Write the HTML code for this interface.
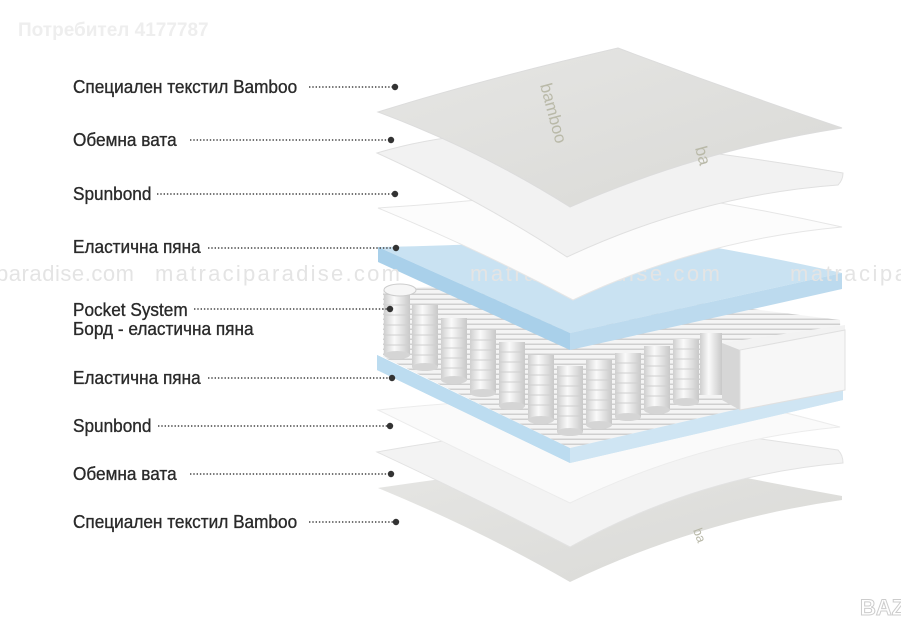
<!DOCTYPE html>
<html><head><meta charset="utf-8"><style>
html,body{margin:0;padding:0;background:#fff;}
body{width:901px;height:639px;overflow:hidden;position:relative;font-family:"Liberation Sans",sans-serif;}
svg{position:absolute;left:0;top:0;}
</style></head><body>
<svg width="901" height="639" viewBox="0 0 901 639" xmlns="http://www.w3.org/2000/svg">
<defs>
<pattern id="coil" width="10" height="5" patternUnits="userSpaceOnUse">
<rect width="10" height="5" fill="#f4f4f4"/><rect y="3.5" width="10" height="1.5" fill="#cfcfcf"/>
</pattern>
<linearGradient id="cyl" x1="0" x2="1" y1="0" y2="0">
<stop offset="0" stop-color="#cfcfcf"/><stop offset="0.4" stop-color="#fafafa"/><stop offset="1" stop-color="#c8c8c8"/>
</linearGradient>
<linearGradient id="bam" x1="0" x2="1" y1="0" y2="1">
<stop offset="0" stop-color="#e6e6e4"/><stop offset="1" stop-color="#d9d9d6"/>
</linearGradient>
<linearGradient id="blue" x1="0" x2="1" y1="0" y2="0">
<stop offset="0" stop-color="#b9d9ee"/><stop offset="1" stop-color="#d9ebf6"/>
</linearGradient>
</defs>

<text x="18" y="36" font-size="19" font-weight="bold" fill="#eeeeee" font-family="Liberation Sans, sans-serif">Потребител 4177787</text>

<path d="M378,488 Q480,530 570,582 Q700,520 842,500 L842,496 Q700,470 640,455 Q500,470 378,488 Z" fill="url(#bam)"/>
<path d="M377,452 Q480,500 570,547 Q700,475 843,463 Q843,455 838,450 Q700,430 620,420 Q500,430 377,452 Z" fill="#f3f3f3" stroke="#e2e2e2" stroke-width="1"/>
<path d="M378,410 Q480,460 570,503 Q700,440 840,427 Q760,405 700,395 Q520,395 378,410 Z" fill="#fafafa" stroke="#ececec" stroke-width="1"/>
<path d="M377,355 L570,448 L843,383 L843,400 L570,463 L377,370 Z" fill="url(#blue)"/>
<path d="M377,355 L570,448 L570,463 L377,370 Z" fill="#bcdcf0"/>
<path d="M570,448 L843,383 L843,400 L570,463 Z" fill="#cfe5f3"/>

<path d="M383,290 L520,280 L840,320 L842,385 L570,448 L383,357 Z" fill="url(#coil)"/>
<path d="M722,343 L845,325 L845,390 L740,410 L722,400 Z" fill="#f2f2f2"/>
<path d="M722,343 L740,350 L740,410 L722,400 Z" fill="#d6d6d6"/>
<path d="M740,350 L845,330 L845,390 L740,410 Z" fill="#f7f7f7" stroke="#e0e0e0"/>
<g>
<rect x="384" y="295" width="26" height="60" fill="url(#cyl)"/><ellipse cx="397" cy="355" rx="13" ry="4" fill="#d5d5d5"/>
<rect x="412" y="305" width="26" height="62" fill="url(#cyl)"/><ellipse cx="425" cy="367" rx="13" ry="4" fill="#d5d5d5"/>
<rect x="441" y="318" width="26" height="62" fill="url(#cyl)"/><ellipse cx="454" cy="380" rx="13" ry="4" fill="#d5d5d5"/>
<rect x="470" y="330" width="26" height="63" fill="url(#cyl)"/><ellipse cx="483" cy="393" rx="13" ry="4" fill="#d5d5d5"/>
<rect x="499" y="342" width="26" height="64" fill="url(#cyl)"/><ellipse cx="512" cy="406" rx="13" ry="4" fill="#d5d5d5"/>
<rect x="528" y="355" width="26" height="65" fill="url(#cyl)"/><ellipse cx="541" cy="420" rx="13" ry="4" fill="#d5d5d5"/>
<rect x="557" y="366" width="26" height="66" fill="url(#cyl)"/><ellipse cx="570" cy="432" rx="13" ry="4" fill="#d5d5d5"/>
<rect x="586" y="360" width="26" height="65" fill="url(#cyl)"/><ellipse cx="599" cy="425" rx="13" ry="4" fill="#d5d5d5"/>
<rect x="615" y="353" width="26" height="64" fill="url(#cyl)"/><ellipse cx="628" cy="417" rx="13" ry="4" fill="#d5d5d5"/>
<rect x="644" y="346" width="26" height="64" fill="url(#cyl)"/><ellipse cx="657" cy="410" rx="13" ry="4" fill="#d5d5d5"/>
<rect x="673" y="339" width="26" height="63" fill="url(#cyl)"/><ellipse cx="686" cy="402" rx="13" ry="4" fill="#d5d5d5"/>
<rect x="700" y="333" width="22" height="62" fill="url(#cyl)"/>
</g>
<g stroke="#d0d0d0" stroke-width="1.2" opacity="0.8">
<path d="M384,305 h26 M384,315 h26 M384,325 h26 M384,335 h26 M384,345 h26"/>
<path d="M412,315 h26 M412,325 h26 M412,335 h26 M412,345 h26 M412,355 h26"/>
<path d="M441,328 h26 M441,338 h26 M441,348 h26 M441,358 h26 M441,368 h26"/>
<path d="M470,340 h26 M470,350 h26 M470,360 h26 M470,370 h26 M470,380 h26"/>
<path d="M499,352 h26 M499,362 h26 M499,372 h26 M499,382 h26 M499,392 h26"/>
<path d="M528,365 h26 M528,375 h26 M528,385 h26 M528,395 h26 M528,405 h26"/>
<path d="M557,376 h26 M557,386 h26 M557,396 h26 M557,406 h26 M557,416 h26"/>
<path d="M586,370 h26 M586,380 h26 M586,390 h26 M586,400 h26 M586,410 h26"/>
<path d="M615,363 h26 M615,373 h26 M615,383 h26 M615,393 h26 M615,403 h26"/>
<path d="M644,356 h26 M644,366 h26 M644,376 h26 M644,386 h26 M644,396 h26"/>
<path d="M673,349 h26 M673,359 h26 M673,369 h26 M673,379 h26 M673,389 h26"/>
</g>
<ellipse cx="400" cy="290" rx="16" ry="6" fill="#f6f6f6" stroke="#ccc"/>

<path d="M378,247 Q520,245 620,232 Q740,250 842,273 L570,333 Z" fill="#c9e2f2"/>
<path d="M378,247 L570,333 L570,350 L378,262 Z" fill="#a9d0ea"/>
<path d="M570,333 L842,273 L842,289 L570,350 Z" fill="#bcdaee"/>
<g font-size="22" fill="#e4e4e4" font-family="Liberation Sans, sans-serif">
<text x="-4" y="281" textLength="138" lengthAdjust="spacing">paradise.com</text>
<text x="155" y="281" textLength="245" lengthAdjust="spacing">matraciparadise.com</text>
<text x="470" y="281" textLength="250" lengthAdjust="spacing">matraciparadise.com</text>
<text x="790" y="281" textLength="250" lengthAdjust="spacing">matraciparadise.com</text>
</g>
<path d="M378,208 Q500,200 600,185 Q720,200 842,227 Q700,240 573,300 Q480,250 378,208 Z" fill="#fcfcfc" stroke="#e6e6e6"/>
<path d="M377,153 Q420,140 470,135 Q620,135 843,173 Q843,180 838,185 Q700,195 567,257 Q480,200 377,153 Z" fill="#f2f2f2" stroke="#e0e0e0"/>
<path d="M378,112 Q480,80 618,48 Q730,90 842,128 Q700,150 570,207 Q480,150 378,112 Z" fill="url(#bam)" stroke="#dcdcdc"/>
<text x="540" y="85" font-size="17" fill="#b9b9a8" transform="rotate(75 540 85)" font-family="Liberation Sans, sans-serif">bamboo</text>
<text x="695" y="148" font-size="17" fill="#b9b9a8" transform="rotate(75 695 148)" font-family="Liberation Sans, sans-serif">ba</text>
<text x="693" y="530" font-size="13" fill="#b8b8a8" transform="rotate(70 693 530)">ba</text>

<g font-family="Liberation Sans, sans-serif" font-size="18.5" fill="#2a2a2a" stroke="#2a2a2a" stroke-width="0.35">
<text x="73" y="93" transform="translate(73 0) scale(0.93 1) translate(-73 0)">Специален текстил Bamboo</text>
<text x="73" y="146" transform="translate(73 0) scale(0.93 1) translate(-73 0)">Обемна вата</text>
<text x="73" y="200" transform="translate(73 0) scale(0.93 1) translate(-73 0)">Spunbond</text>
<text x="73" y="253" transform="translate(73 0) scale(0.93 1) translate(-73 0)">Еластична пяна</text>
<text x="73" y="316" transform="translate(73 0) scale(0.93 1) translate(-73 0)">Pocket System</text>
<text x="73" y="335" transform="translate(73 0) scale(0.93 1) translate(-73 0)">Борд - еластична пяна</text>
<text x="73" y="384" transform="translate(73 0) scale(0.93 1) translate(-73 0)">Еластична пяна</text>
<text x="73" y="432" transform="translate(73 0) scale(0.93 1) translate(-73 0)">Spunbond</text>
<text x="73" y="480" transform="translate(73 0) scale(0.93 1) translate(-73 0)">Обемна вата</text>
<text x="73" y="528" transform="translate(73 0) scale(0.93 1) translate(-73 0)">Специален текстил Bamboo</text>
</g>
<g stroke="#444" stroke-width="1.4" stroke-dasharray="1.4 1.9">
<line x1="309" y1="87" x2="393" y2="87"/>
<line x1="190" y1="140" x2="389" y2="140"/>
<line x1="157" y1="194" x2="393" y2="194"/>
<line x1="208" y1="248" x2="394" y2="248"/>
<line x1="194" y1="309" x2="388" y2="309"/>
<line x1="208" y1="378" x2="390" y2="378"/>
<line x1="158" y1="426" x2="388" y2="426"/>
<line x1="190" y1="474" x2="389" y2="474"/>
<line x1="309" y1="522" x2="394" y2="522"/>
</g>
<g fill="#333">
<circle cx="395" cy="87" r="3.2"/><circle cx="391" cy="140" r="3.2"/><circle cx="395" cy="194" r="3.2"/>
<circle cx="396" cy="248" r="3.2"/><circle cx="390" cy="309" r="3.2"/><circle cx="392" cy="378" r="3.2"/>
<circle cx="390" cy="426" r="3.2"/><circle cx="391" cy="474" r="3.2"/><circle cx="396" cy="522" r="3.2"/>
</g>
<text x="860" y="615" font-size="22" font-weight="bold" fill="#fff" stroke="#ccc" stroke-width="1" font-family="Liberation Sans, sans-serif">BAZ</text>
</svg>
</body></html>
